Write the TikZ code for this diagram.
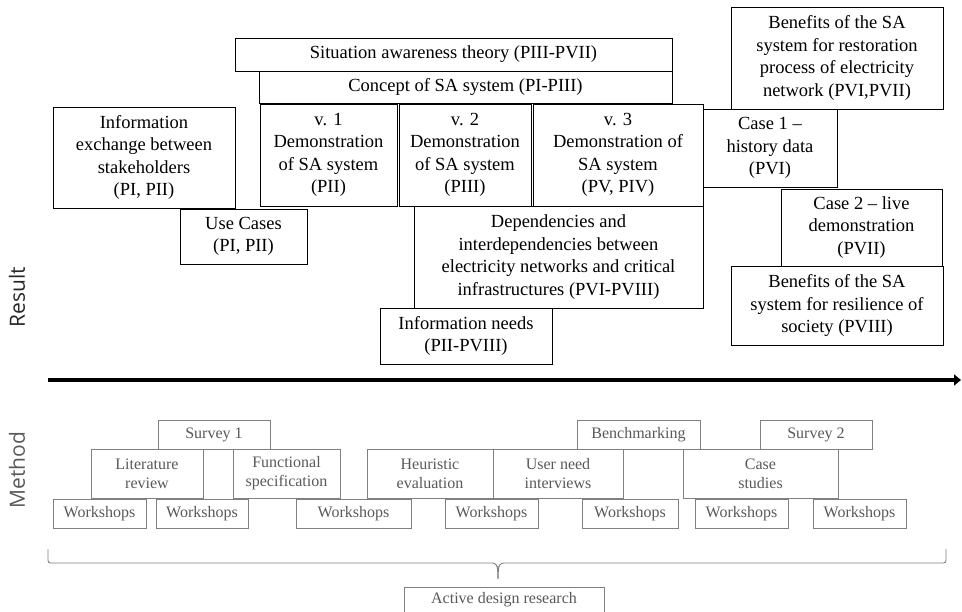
\documentclass[tikz,border=0pt]{standalone}
\usepackage{fontspec}
\setmainfont{Liberation Serif}
\newfontfamily\labelfont{Open Sans}
\usetikzlibrary{arrows.meta}
\definecolor{methodtext}{gray}{0.35}
\definecolor{methodline}{gray}{0.5}
\begin{document}
\begin{tikzpicture}[x=1pt,y=-1pt,
    resbox/.style={draw, line width=0.8pt, align=center, inner sep=2pt, fill=white,
      font=\fontsize{18.5}{22.5}\selectfont},
    methbox/.style={draw=methodline, line width=0.8pt, align=center, inner sep=2pt, fill=white,
      text=methodtext, font=\fontsize{16}{19}\selectfont},
    axislabel/.style={rotate=90, font=\labelfont\fontsize{21}{24}\selectfont}]
        \path[use as bounding box, clip] (0,0) rectangle (962,612);

        \node[resbox, minimum width=437, minimum height=33] (satheory) at (453.5,54.5) {Situation awareness theory (PIII-PVII)};
        \node[resbox, minimum width=413, minimum height=32] (concept) at (465.5,87) {Concept of SA system (PI-PIII)};
        \node[resbox, minimum width=182, minimum height=101] (infoex) at (144,157.5) {Information\\exchange between\\stakeholders\\(PI, PII)};
        \node[resbox, minimum width=137, minimum height=102] (demoone) at (328.5,155) {v. 1\\Demonstration\\of SA system\\(PII)};
        \node[resbox, minimum width=132, minimum height=102] (demotwo) at (465,155) {v. 2\\Demonstration\\of SA system\\(PIII)};
        \node[resbox, minimum width=170, minimum height=102] (demothree) at (618,155) {v. 3\\Demonstration of\\SA system\\(PV, PIV)};
        \node[resbox, minimum width=127, minimum height=55] (usecases) at (243.5,236.5) {Use Cases\\(PI, PII)};
        \node[resbox, minimum width=289, minimum height=102] (depend) at (558.5,257) {Dependencies and\\interdependencies between\\electricity networks and critical\\infrastructures (PVI-PVIII)};
        \node[resbox, minimum width=172, minimum height=56] (infoneeds) at (466,336) {Information needs\\(PII-PVIII)};
        \node[resbox, minimum width=212, minimum height=102] (benrestore) at (837,58) {Benefits of the SA\\system for restoration\\process of electricity\\network (PVI,PVII)};
        \node[resbox, minimum width=134, minimum height=78] (caseone) at (770,148) {Case 1 --\\history data\\(PVI)};
        \node[resbox, minimum width=161, minimum height=77] (casetwo) at (861.5,227.5) {Case 2 -- live\\demonstration\\(PVII)};
        \node[resbox, minimum width=212, minimum height=79] (benresil) at (837,305.5) {Benefits of the SA\\system for resilience of\\society (PVIII)};

        \node[axislabel, text=black!85] (result) at (17,297) {Result};
        \node[axislabel, text=methodtext] (method) at (17,470) {Method};

        \coordinate (timestart) at (48,380);
        \coordinate (timeend) at (961,380);
        \draw[line width=4pt, -{Triangle[length=7pt,width=11pt]}] (timestart) -- (timeend);

        \node[methbox, minimum width=112, minimum height=29] (surveyone) at (214,434.5) {Survey 1};
        \node[methbox, minimum width=123, minimum height=29] (bench) at (638.5,434.5) {Benchmarking};
        \node[methbox, minimum width=112, minimum height=29] (surveytwo) at (816,434.5) {Survey 2};
        \node[methbox, minimum width=112, minimum height=49] (litreview) at (147,473.5) {Literature\\review};
        \node[methbox, minimum width=107, minimum height=49] (funcspec) at (286.5,473.5) {Functional\\specification};
        \node[methbox, minimum width=126, minimum height=49] (heuristic) at (430,473.5) {Heuristic\\evaluation};
        \node[methbox, minimum width=130, minimum height=49] (userneed) at (558,473.5) {User need\\interviews};
        \node[methbox, minimum width=155, minimum height=49] (casestudies) at (760.5,473.5) {Case\\studies};
        \node[methbox, minimum width=93, minimum height=29] (wsone) at (99.5,513.5) {Workshops};
        \node[methbox, minimum width=92, minimum height=29] (wstwo) at (202,513.5) {Workshops};
        \node[methbox, minimum width=115, minimum height=29] (wsthree) at (353.5,513.5) {Workshops};
        \node[methbox, minimum width=93, minimum height=29] (wsfour) at (491.5,513.5) {Workshops};
        \node[methbox, minimum width=96, minimum height=29] (wsfive) at (630,513.5) {Workshops};
        \node[methbox, minimum width=93, minimum height=29] (wssix) at (741.5,513.5) {Workshops};
        \node[methbox, minimum width=93, minimum height=29] (wsseven) at (859.5,513.5) {Workshops};

        \coordinate (braceleft) at (48,549);
        \coordinate (braceright) at (946,549);
        \coordinate (bracetip) at (498,579);
        \draw[methodline, line width=0.9pt, rounded corners=2.5pt] (braceleft) -- ++(0,14) -- (495,563) -- (497.5,567) -- (bracetip);
        \draw[methodline, line width=0.9pt, rounded corners=2.5pt] (braceright) -- ++(0,14) -- (501,563) -- (498.5,567) -- (bracetip);
        \node[methbox, minimum width=200, minimum height=26] (active) at (504,600) {Active design research};

      \end{tikzpicture}
\end{document}
